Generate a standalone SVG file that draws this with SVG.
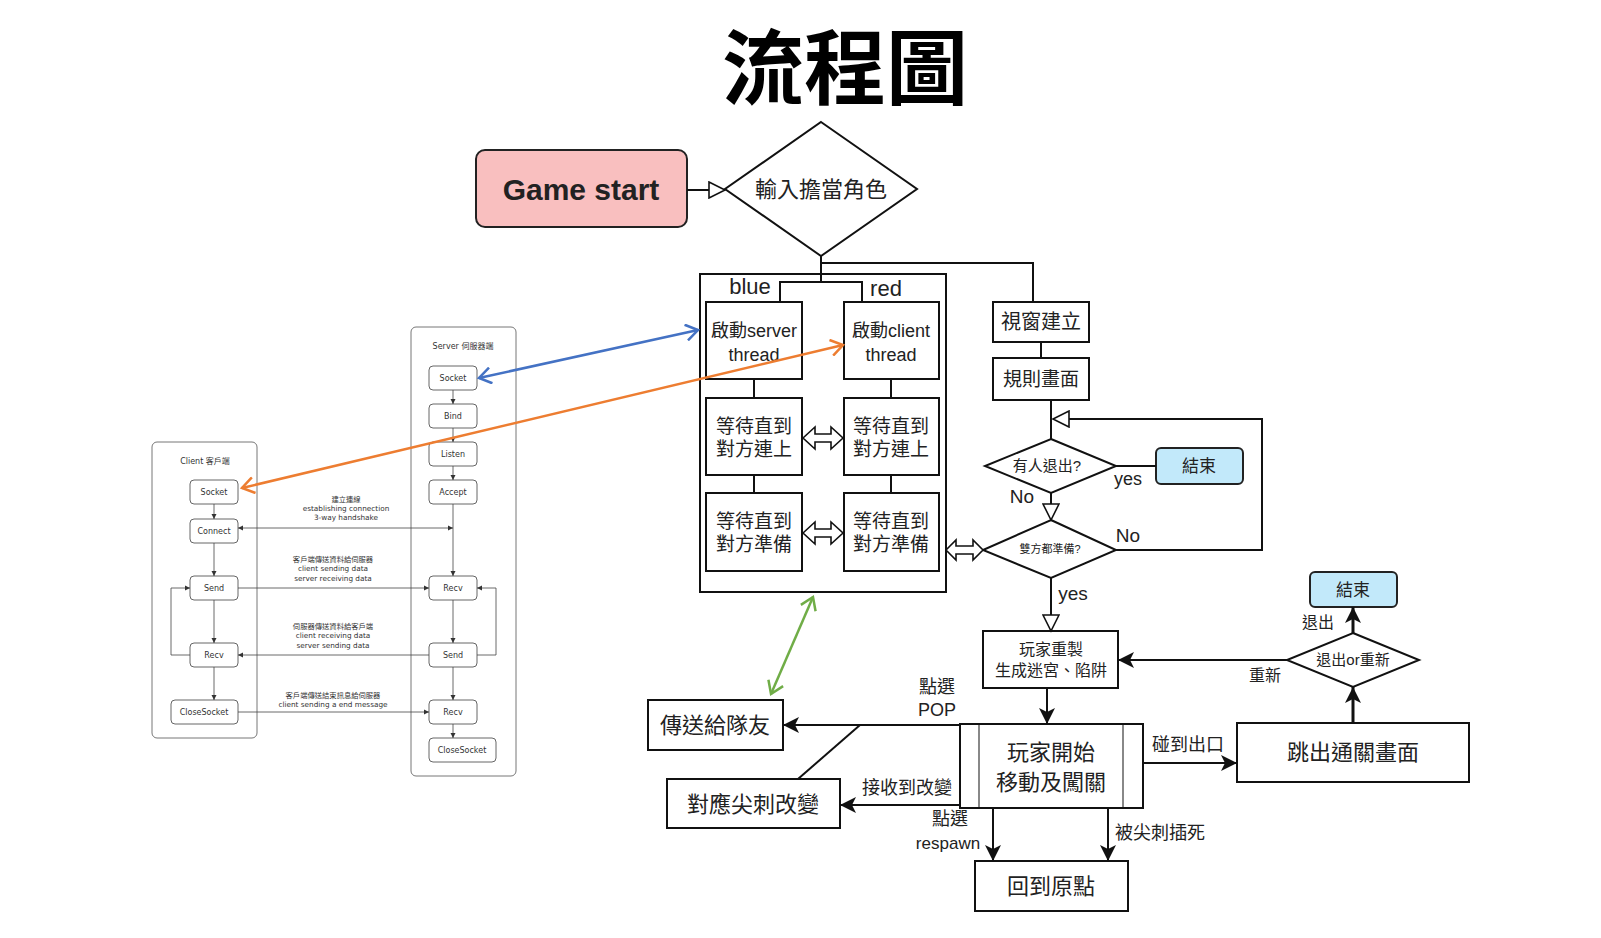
<svg xmlns="http://www.w3.org/2000/svg" width="1601" height="938" viewBox="0 0 1601 938">
<defs>
<style>
.cs-frame{fill:#fff;stroke:#777;stroke-width:1}
.cs-box{fill:#fff;stroke:#666;stroke-width:1}
.cs-t{font-family:"DejaVu Sans","Noto Sans CJK TC",sans-serif;font-size:8px;fill:#333;text-anchor:middle}
.cs-d{font-family:"DejaVu Sans","Noto Sans CJK TC",sans-serif;font-size:7.3px;fill:#333;text-anchor:middle}
.cs-l{fill:none;stroke:#444;stroke-width:0.8}
.box{fill:#fff;stroke:#111;stroke-width:2}
.t{font-family:"Liberation Sans","Noto Sans CJK TC",sans-serif;fill:#222;text-anchor:middle}
.ln{fill:none;stroke:#111;stroke-width:2}
.gray{fill:none;stroke:#888;stroke-width:2}
</style>
<marker id="sm" markerUnits="userSpaceOnUse" markerWidth="6" markerHeight="6" refX="5" refY="3" orient="auto-start-reverse"><path d="M0,0.5 L5,3 L0,5.5 z" fill="#333"/></marker>
<marker id="htri" markerUnits="userSpaceOnUse" markerWidth="19" markerHeight="18" refX="17" refY="9" orient="auto"><path d="M1,1 L17,9 L1,17 z" fill="#fff" stroke="#111" stroke-width="1.6"/></marker>
<marker id="fill" markerUnits="userSpaceOnUse" markerWidth="18" markerHeight="18" refX="16" refY="9" orient="auto"><path d="M0,1 L16,9 L0,17 L4,9 z" fill="#111"/></marker>
<marker id="cb" markerUnits="userSpaceOnUse" markerWidth="16" markerHeight="18" refX="13" refY="9" orient="auto-start-reverse"><path d="M1,1 L13,9 L1,17" fill="none" stroke="#4472C4" stroke-width="2.5"/></marker>
<marker id="co" markerUnits="userSpaceOnUse" markerWidth="16" markerHeight="18" refX="13" refY="9" orient="auto-start-reverse"><path d="M1,1 L13,9 L1,17" fill="none" stroke="#ED7D31" stroke-width="2.5"/></marker>
<marker id="cg" markerUnits="userSpaceOnUse" markerWidth="16" markerHeight="18" refX="13" refY="9" orient="auto-start-reverse"><path d="M1,1 L13,9 L1,17" fill="none" stroke="#70AD47" stroke-width="2.5"/></marker>
</defs>
<rect width="1601" height="938" fill="#fff"/>

<g id="title"><text x="845" y="98" font-family="'Noto Sans CJK TC',sans-serif" font-weight="bold" font-size="82" text-anchor="middle" fill="#000">流程圖</text></g>

<!-- Client / Server socket diagram -->
<g id="client-frame"><rect class="cs-frame" x="152" y="442" width="105" height="296" rx="5"/><text class="cs-t" x="205" y="464">Client 客戶端</text></g>
<g id="server-frame"><rect class="cs-frame" x="411" y="327" width="105" height="449" rx="5"/><text class="cs-t" x="463" y="349">Server 伺服器端</text></g>
<g id="s-socket"><rect class="cs-box" x="429" y="366" width="48" height="24" rx="4"/><text class="cs-t" x="453" y="381">Socket</text></g>
<g id="s-bind"><rect class="cs-box" x="429" y="404" width="48" height="24" rx="4"/><text class="cs-t" x="453" y="419">Bind</text></g>
<g id="s-listen"><rect class="cs-box" x="429" y="442" width="48" height="24" rx="4"/><text class="cs-t" x="453" y="457">Listen</text></g>
<g id="s-accept"><rect class="cs-box" x="429" y="480" width="48" height="24" rx="4"/><text class="cs-t" x="453" y="495">Accept</text></g>
<g id="s-recv1"><rect class="cs-box" x="429" y="576" width="48" height="24" rx="4"/><text class="cs-t" x="453" y="591">Recv</text></g>
<g id="s-send"><rect class="cs-box" x="429" y="643" width="48" height="24" rx="4"/><text class="cs-t" x="453" y="658">Send</text></g>
<g id="s-recv2"><rect class="cs-box" x="429" y="700" width="48" height="24" rx="4"/><text class="cs-t" x="453" y="715">Recv</text></g>
<g id="s-close"><rect class="cs-box" x="429" y="738" width="67" height="24" rx="4"/><text class="cs-t" x="462" y="753">CloseSocket</text></g>
<g id="c-socket"><rect class="cs-box" x="190" y="480" width="48" height="24" rx="4"/><text class="cs-t" x="214" y="495">Socket</text></g>
<g id="c-connect"><rect class="cs-box" x="190" y="519" width="48" height="24" rx="4"/><text class="cs-t" x="214" y="534">Connect</text></g>
<g id="c-send"><rect class="cs-box" x="190" y="576" width="48" height="24" rx="4"/><text class="cs-t" x="214" y="591">Send</text></g>
<g id="c-recv"><rect class="cs-box" x="190" y="643" width="48" height="24" rx="4"/><text class="cs-t" x="214" y="658">Recv</text></g>
<g id="c-close"><rect class="cs-box" x="171" y="700" width="67" height="24" rx="4"/><text class="cs-t" x="204" y="715">CloseSocket</text></g>

<g id="cs-labels">
<text class="cs-d" x="346" y="502">建立連線</text>
<text class="cs-d" x="346" y="511">establishing connection</text>
<text class="cs-d" x="346" y="520">3-way handshake</text>
<text class="cs-d" x="333" y="562">客戶端傳送資料給伺服器</text>
<text class="cs-d" x="333" y="571">client sending data</text>
<text class="cs-d" x="333" y="581">server receiving data</text>
<text class="cs-d" x="333" y="629">伺服器傳送資料給客戶端</text>
<text class="cs-d" x="333" y="638">client receiving data</text>
<text class="cs-d" x="333" y="648">server sending data</text>
<text class="cs-d" x="333" y="698">客戶端傳送結束訊息給伺服器</text>
<text class="cs-d" x="333" y="707">client sending a end message</text>
</g>

<!-- Main nodes -->
<g id="game-start"><rect x="476" y="150" width="211" height="77" rx="9" fill="#F9BFBF" stroke="#222" stroke-width="2"/><text class="t" x="581" y="200" font-size="30" font-weight="bold" fill="#111">Game start</text></g>
<g id="choose-role"><polygon points="821,122 917,189 821,256 725,189" fill="#fff" stroke="#111" stroke-width="2"/><text class="t" x="821" y="197" font-size="22">輸入擔當角色</text></g>
<g id="thread-frame"><rect x="700" y="274" width="246" height="318" fill="none" stroke="#111" stroke-width="2"/><text class="t" x="750" y="294" font-size="22">blue</text><text class="t" x="886" y="296" font-size="22">red</text></g>
<g id="server-thread"><rect class="box" x="706" y="302" width="96" height="77"/><text class="t" x="754" y="337" font-size="18">啟動server</text><text class="t" x="754" y="361" font-size="18">thread</text></g>
<g id="client-thread"><rect class="box" x="844" y="302" width="95" height="77"/><text class="t" x="891" y="337" font-size="18">啟動client</text><text class="t" x="891" y="361" font-size="18">thread</text></g>
<g id="wait-connect-l"><rect class="box" x="706" y="398" width="96" height="77"/><text class="t" x="754" y="433" font-size="19">等待直到</text><text class="t" x="754" y="456" font-size="19">對方連上</text></g>
<g id="wait-connect-r"><rect class="box" x="844" y="398" width="95" height="77"/><text class="t" x="891" y="433" font-size="19">等待直到</text><text class="t" x="891" y="456" font-size="19">對方連上</text></g>
<g id="wait-ready-l"><rect class="box" x="706" y="493" width="96" height="78"/><text class="t" x="754" y="528" font-size="19">等待直到</text><text class="t" x="754" y="551" font-size="19">對方準備</text></g>
<g id="wait-ready-r"><rect class="box" x="844" y="493" width="95" height="78"/><text class="t" x="891" y="528" font-size="19">等待直到</text><text class="t" x="891" y="551" font-size="19">對方準備</text></g>
<g id="window"><rect class="box" x="993" y="302" width="96" height="40"/><text class="t" x="1041" y="329" font-size="20">視窗建立</text></g>
<g id="rules"><rect class="box" x="993" y="358" width="96" height="42"/><text class="t" x="1041" y="386" font-size="19">規則畫面</text></g>
<g id="quit-q"><polygon points="1051,439 1116,466 1051,493 985,466" fill="#fff" stroke="#111" stroke-width="2"/><text class="t" x="1047" y="471" font-size="15">有人退出?</text></g>
<g id="end1"><rect x="1156" y="448" width="87" height="36" rx="5" fill="#C2E9FA" stroke="#222" stroke-width="2"/><text class="t" x="1199" y="472" font-size="17">結束</text></g>
<g id="ready-q"><polygon points="1051,520 1116,550 1051,578 983,550" fill="#fff" stroke="#111" stroke-width="2"/><text class="t" x="1050" y="553" font-size="11" fill="#888">雙方都準備?</text></g>
<g id="reset"><rect class="box" x="983" y="631" width="135" height="57"/><text class="t" x="1051" y="655" font-size="16">玩家重製</text><text class="t" x="1051" y="676" font-size="16">生成迷宮、陷阱</text></g>
<g id="play"><rect class="box" x="960" y="724" width="183" height="84"/><line class="gray" x1="979" y1="725" x2="979" y2="807"/><line class="gray" x1="1123" y1="725" x2="1123" y2="807"/><text class="t" x="1051" y="760" font-size="22">玩家開始</text><text class="t" x="1051" y="790" font-size="22">移動及闖關</text></g>
<g id="send-team"><rect class="box" x="648" y="700" width="135" height="50"/><text class="t" x="715" y="733" font-size="22">傳送給隊友</text></g>
<g id="spike-change"><rect class="box" x="667" y="779" width="173" height="49"/><text class="t" x="753" y="812" font-size="22">對應尖刺改變</text></g>
<g id="respawn"><rect class="box" x="975" y="861" width="153" height="50"/><text class="t" x="1051" y="894" font-size="22">回到原點</text></g>
<g id="clear"><rect class="box" x="1237" y="723" width="232" height="59"/><text class="t" x="1353" y="760" font-size="22">跳出通關畫面</text></g>
<g id="quit-or-retry"><polygon points="1353,633 1419,660 1353,687 1287,660" fill="#fff" stroke="#111" stroke-width="2"/><text class="t" x="1353" y="665" font-size="15">退出or重新</text></g>
<g id="end2"><rect x="1310" y="572" width="87" height="35" rx="5" fill="#C2E9FA" stroke="#222" stroke-width="2"/><text class="t" x="1353" y="596" font-size="17">結束</text></g>

<!-- Connectors -->
<g id="connectors">
<line class="cs-l" x1="453" y1="390" x2="453" y2="404" marker-end="url(#sm)"/>
<line class="cs-l" x1="453" y1="428" x2="453" y2="442" marker-end="url(#sm)"/>
<line class="cs-l" x1="453" y1="466" x2="453" y2="480" marker-end="url(#sm)"/>
<line class="cs-l" x1="453" y1="504" x2="453" y2="576" marker-end="url(#sm)"/>
<line class="cs-l" x1="453" y1="600" x2="453" y2="643" marker-end="url(#sm)"/>
<line class="cs-l" x1="453" y1="667" x2="453" y2="700" marker-end="url(#sm)"/>
<line class="cs-l" x1="453" y1="724" x2="453" y2="738" marker-end="url(#sm)"/>
<line class="cs-l" x1="214" y1="504" x2="214" y2="519" marker-end="url(#sm)"/>
<line class="cs-l" x1="214" y1="543" x2="214" y2="576" marker-end="url(#sm)"/>
<line class="cs-l" x1="214" y1="600" x2="214" y2="643" marker-end="url(#sm)"/>
<line class="cs-l" x1="214" y1="667" x2="214" y2="700" marker-end="url(#sm)"/>
<path class="cs-l" d="M190,655 L171,655 L171,588 L190,588" marker-end="url(#sm)"/>
<path class="cs-l" d="M477,655 L496,655 L496,588 L477,588" marker-end="url(#sm)"/>
<line class="cs-l" x1="238" y1="528" x2="453" y2="528" marker-start="url(#sm)" marker-end="url(#sm)"/>
<line class="cs-l" x1="238" y1="588" x2="429" y2="588" marker-end="url(#sm)"/>
<line class="cs-l" x1="429" y1="655" x2="238" y2="655" marker-end="url(#sm)"/>
<line class="cs-l" x1="238" y1="712" x2="429" y2="712" marker-end="url(#sm)"/>

<line x1="479" y1="378" x2="698" y2="330" stroke="#4472C4" stroke-width="2.5" marker-start="url(#cb)" marker-end="url(#cb)"/>
<line x1="242" y1="488" x2="843" y2="345" stroke="#ED7D31" stroke-width="2.5" marker-start="url(#co)" marker-end="url(#co)"/>
<line x1="813" y1="597" x2="771" y2="694" stroke="#70AD47" stroke-width="2.5" marker-start="url(#cg)" marker-end="url(#cg)"/>

<line class="ln" x1="687" y1="190" x2="725" y2="190" marker-end="url(#htri)"/>
<path class="ln" d="M821,256 L821,282 M821,263 L1033,263 L1033,302"/>
<path class="ln" d="M780,302 L780,282 L862,282 L862,302"/>
<line class="ln" x1="754" y1="379" x2="754" y2="398"/>
<line class="ln" x1="891" y1="379" x2="891" y2="398"/>
<line class="ln" x1="754" y1="475" x2="754" y2="493"/>
<line class="ln" x1="891" y1="475" x2="891" y2="493"/>
<polygon points="803,438 815,427 815,434 831,434 831,427 843,438 831,449 831,442 815,442 815,449" fill="#fff" stroke="#111" stroke-width="1.6"/>
<polygon points="803,533 815,522 815,529 831,529 831,522 843,533 831,544 831,537 815,537 815,544" fill="#fff" stroke="#111" stroke-width="1.6"/>
<polygon points="946,550 956,540 956,546 973,546 973,540 983,550 973,560 973,554 956,554 956,560" fill="#fff" stroke="#111" stroke-width="1.6"/>
<line class="ln" x1="1041" y1="342" x2="1041" y2="358"/>
<line class="ln" x1="1051" y1="400" x2="1051" y2="439"/>
<path class="ln" d="M1116,550 L1262,550 L1262,419 L1053,419" marker-end="url(#htri)"/>
<line class="ln" x1="1116" y1="466" x2="1156" y2="466"/>
<line class="ln" x1="1051" y1="493" x2="1051" y2="520" marker-end="url(#htri)"/>
<line class="ln" x1="1051" y1="578" x2="1051" y2="631" marker-end="url(#htri)"/>
<line class="ln" x1="1047" y1="688" x2="1047" y2="724" marker-end="url(#fill)"/>
<line class="ln" x1="960" y1="725" x2="783" y2="725" marker-end="url(#fill)"/>
<line class="ln" x1="860" y1="725" x2="798" y2="779"/>
<line class="ln" x1="960" y1="805" x2="840" y2="805" marker-end="url(#fill)"/>
<line class="ln" x1="993" y1="808" x2="993" y2="861" marker-end="url(#fill)"/>
<line class="ln" x1="1108" y1="808" x2="1108" y2="861" marker-end="url(#fill)"/>
<line class="ln" x1="1143" y1="763" x2="1237" y2="763" marker-end="url(#fill)"/>
<line x1="1353" y1="723" x2="1353" y2="687" stroke="#111" stroke-width="3" marker-end="url(#fill)"/>
<line x1="1353" y1="633" x2="1353" y2="607" stroke="#111" stroke-width="3" marker-end="url(#fill)"/>
<line class="ln" x1="1287" y1="660" x2="1118" y2="660" marker-end="url(#fill)"/>
</g>

<g id="edge-labels">
<text class="t" x="1128" y="485" font-size="18">yes</text>
<text class="t" x="1022" y="503" font-size="19">No</text>
<text class="t" x="1128" y="542" font-size="19">No</text>
<text class="t" x="1073" y="600" font-size="19">yes</text>
<text class="t" x="937" y="693" font-size="18">點選</text>
<text class="t" x="937" y="716" font-size="18">POP</text>
<text class="t" x="907" y="794" font-size="18">接收到改變</text>
<text class="t" x="950" y="825" font-size="18">點選</text>
<text class="t" x="948" y="849" font-size="17">respawn</text>
<text class="t" x="1160" y="839" font-size="18">被尖刺插死</text>
<text class="t" x="1188" y="751" font-size="18">碰到出口</text>
<text class="t" x="1318" y="628" font-size="16">退出</text>
<text class="t" x="1265" y="681" font-size="16">重新</text>
</g>
</svg>
